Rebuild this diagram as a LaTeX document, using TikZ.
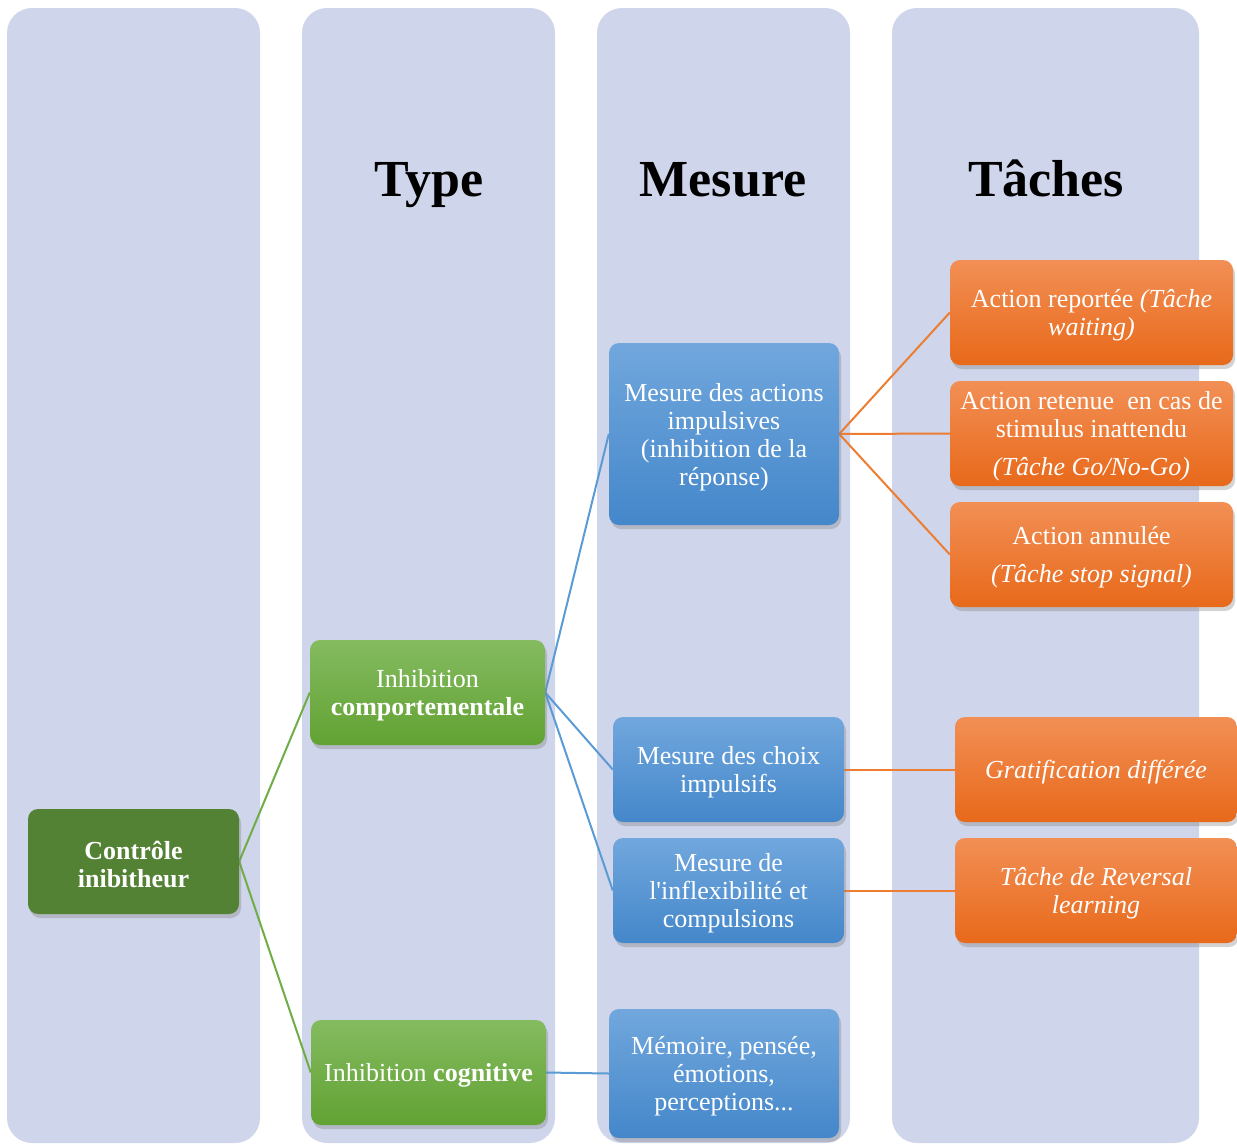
\documentclass[tikz,border=0pt]{standalone}
\usepackage{fontspec}
\setmainfont{Liberation Serif}
\newfontfamily\aposfont{Liberation Serif}
\usetikzlibrary{shadows,backgrounds}
\definecolor{panelc}{HTML}{CFD5EA}
\definecolor{dgreen}{HTML}{548235}
\definecolor{gtop}{HTML}{84BB60}
\definecolor{gbot}{HTML}{62A233}
\definecolor{btop}{HTML}{71A7DD}
\definecolor{bbot}{HTML}{4487CA}
\definecolor{otop}{HTML}{F28F55}
\definecolor{obot}{HTML}{E8691A}
\definecolor{lgreen}{HTML}{70AD47}
\definecolor{lblue}{HTML}{5B9BD5}
\definecolor{lorange}{HTML}{ED7D31}
\newcommand\topstrut{\rule{0pt}{24.5pt}}
\newcommand\botstrut{\rule[-2pt]{0pt}{0pt}}
\tikzset{
  panel/.style={fill=panelc, rounded corners=25pt, draw=none},
  boxbase/.style={rectangle, rounded corners=10pt, align=center, text=white,
    font=\fontsize{26}{28}\selectfont, inner sep=2pt,
    drop shadow={opacity=0.35, shadow xshift=2pt, shadow yshift=-4pt}},
  darkbox/.style={boxbase, fill=dgreen},
  greenbox/.style={boxbase, top color=gtop, bottom color=gbot},
  bluebox/.style={boxbase, top color=btop, bottom color=bbot},
  orangebox/.style={boxbase, top color=otop, bottom color=obot},
  header/.style={font=\fontsize{52}{60}\selectfont\bfseries, anchor=base},
  gline/.style={draw=lgreen, line width=2pt},
  bline/.style={draw=lblue, line width=2pt},
  oline/.style={draw=lorange, line width=2pt}
}
\begin{document}
\begin{tikzpicture}[x=1pt,y=-1pt]
\useasboundingbox (0,0) rectangle (1237,1144);
% headers
\node[header] (hType) at (429,196) {Type};
\node[header] (hMes) at (723,196) {Mesure};
\node[header] (hTac) at (1046,196) {Tâches};
% nodes
\node[darkbox, minimum width=211pt, minimum height=105pt] (ctrl) at (133.5,861.5) {\topstrut\bfseries Contrôle\\\bfseries inibitheur};
\node[greenbox, minimum width=235pt, minimum height=105pt] (comp) at (427.5,692.5) {\topstrut Inhibition\\\bfseries comportementale};
\node[greenbox, minimum width=235pt, minimum height=105pt] (cogn) at (428.5,1072.5) {\topstrut Inhibition \textbf{cognitive}};
\node[bluebox, minimum width=230pt, minimum height=182pt] (act) at (724,434) {\topstrut Mesure des actions\\impulsives\\(inhibition de la\\réponse)};
\node[bluebox, minimum width=231pt, minimum height=105pt] (choix) at (728.5,769.5) {\topstrut Mesure des choix\\impulsifs};
\node[bluebox, minimum width=231pt, minimum height=105pt] (infl) at (728.5,890.5) {\topstrut Mesure de\\l{\aposfont'}inflexibilité et\\compulsions};
\node[bluebox, minimum width=230pt, minimum height=129pt] (mem) at (724,1073.5) {\topstrut Mémoire, pensée,\\émotions,\\perceptions...};
\node[orangebox, minimum width=283pt, minimum height=105pt] (o1) at (1091.5,312.5) {\topstrut Action reportée \textit{(Tâche}\\\textit{waiting)}};
\node[orangebox, minimum width=283pt, minimum height=105pt] (o2) at (1091.5,433.5) {\topstrut Action retenue \ en cas de\\stimulus inattendu\\[10pt]\textit{(Tâche Go/No-Go)}};
\node[orangebox, minimum width=283pt, minimum height=105pt] (o3) at (1091.5,554.5) {\topstrut Action annulée\\[10pt]\textit{(Tâche stop signal)}};
\node[orangebox, minimum width=282pt, minimum height=105pt] (o4) at (1096,769.5) {\topstrut\textit{Gratification différée}};
\node[orangebox, minimum width=282pt, minimum height=105pt] (o5) at (1096,890.5) {\topstrut\textit{Tâche de Reversal}\\\textit{learning}};
% panels and connectors behind
\begin{scope}[on background layer]
\fill[panel] (7,8) rectangle (260,1143);
\fill[panel] (302,8) rectangle (555,1143);
\fill[panel] (597,8) rectangle (850,1143);
\fill[panel] (892,8) rectangle (1199,1143);
\draw[gline] (ctrl.east) -- (comp.west);
\draw[gline] (ctrl.east) -- (cogn.west);
\draw[bline] (comp.east) -- (act.west);
\draw[bline] (comp.east) -- (choix.west);
\draw[bline] (comp.east) -- (infl.west);
\draw[bline] (cogn.east) -- (mem.west);
\draw[oline] (act.east) -- (o1.west);
\draw[oline] (act.east) -- (o2.west);
\draw[oline] (act.east) -- (o3.west);
\draw[oline] (choix.east) -- (o4.west);
\draw[oline] (infl.east) -- (o5.west);
\end{scope}
\end{tikzpicture}
\end{document}
